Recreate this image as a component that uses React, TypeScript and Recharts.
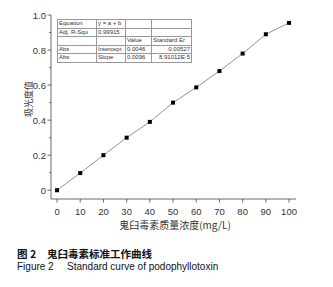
import { LineChart, Line, XAxis, YAxis } from 'recharts';

const concentration = [0, 10, 20, 30, 40, 50, 60, 70, 80, 90, 100];
const absorbance = [0.0, 0.098, 0.2, 0.3, 0.39, 0.5, 0.587, 0.68, 0.78, 0.89, 0.955];

const xTicks = [0, 10, 20, 30, 40, 50, 60, 70, 80, 90, 100];
const yTicks = [0, 0.1, 0.2, 0.3, 0.4, 0.5, 0.6, 0.7, 0.8, 0.9, 1.0];
const yLabels = ['0', '', '0.2', '', '0.4', '', '0.6', '', '0.8', '', '1.0'];

const fitTable = [
  ['Equation', 'y = a + b', '', ''],
  ['Adj. R-Squ', '0.99915', '', ''],
  ['', '', 'Value', 'Standard Er'],
  ['Abs', 'Intercept', '0.0046', '0.00527'],
  ['Abs', 'Slope', '0.0096', '8.91012E-5'],
];
const colWidths = [36, 26, 23, 37];

const data = concentration.map((c, i) => ({ c, abs: absorbance[i] }));

const FONT = '"Liberation Sans", Arial, sans-serif';
const CJK = '"Noto Sans CJK SC", sans-serif';
const AXIS = '#444';

// tickSize/tickMargin are 0, so x,y is the point on the axis line
function YTick(props: any) {
  const { x, y, index } = props;
  const label = yLabels[index];
  const len = label ? 3.5 : 2;
  return (
    <g>
      <line x1={x} y1={y} x2={x - len} y2={y} stroke={AXIS} strokeWidth={0.8} />
      {label && (
        <text x={x - 5} y={y} dy={3.5} textAnchor="end" fontSize={9.5} fill="#333" fontFamily={FONT}>
          {label}
        </text>
      )}
    </g>
  );
}

function XTick(props: any) {
  const { x, y, payload } = props;
  return (
    <g>
      <line x1={x} y1={y} x2={x} y2={y + 3.5} stroke={AXIS} strokeWidth={0.8} />
      <text x={x} y={y + 16} textAnchor="middle" fontSize={9.5} fill="#333" fontFamily={FONT}>
        {payload.value}
      </text>
    </g>
  );
}

function SquareDot(props: any) {
  const { cx, cy } = props;
  return <rect x={cx - 2} y={cy - 2} width={4} height={4} fill="#000" />;
}

export default function App() {
  return (
    <div style={{ position: 'relative', width: 333, height: 287, background: '#fff', overflow: 'hidden' }}>
      <style>{'body{margin:0}'}</style>
      <LineChart
        width={333}
        height={287}
        data={data}
        margin={{ top: 15, right: 37, left: 0, bottom: 58 }}
      >
        <XAxis
          dataKey="c"
          type="number"
          domain={[-2.6, 103]}
          ticks={xTicks}
          height={30}
          tickSize={0}
          tickMargin={0}
          tickLine={false}
          tick={<XTick />}
          axisLine={{ stroke: AXIS, strokeWidth: 0.8 }}
          interval={0}
        />
        <YAxis
          type="number"
          domain={[-0.05, 1.0]}
          ticks={yTicks}
          width={51}
          tickSize={0}
          tickMargin={0}
          tickLine={false}
          tick={<YTick />}
          axisLine={{ stroke: AXIS, strokeWidth: 0.8 }}
          interval={0}
          allowDataOverflow
        />
        <Line
          type="linear"
          dataKey="abs"
          stroke="#777"
          strokeWidth={0.8}
          dot={<SquareDot />}
          activeDot={false}
          isAnimationActive={false}
        />
      </LineChart>

      {/* axis titles */}
      <svg width={333} height={287} style={{ position: 'absolute', left: 0, top: 0, pointerEvents: 'none' }}>
        <text
          x={28}
          y={99}
          transform="rotate(-90, 28, 99)"
          textAnchor="middle"
          dominantBaseline="central"
          fontFamily={CJK}
          fontSize={9}
          fill="#333"
        >
          吸光度值
        </text>
        <text
          x={175}
          y={224}
          textAnchor="middle"
          dominantBaseline="central"
          fontFamily={CJK}
          fontSize={10}
          fill="#333"
        >
          鬼臼毒素质量浓度(mg/L)
        </text>
      </svg>

      {/* fit result table */}
      <table
        style={{
          position: 'absolute',
          left: 57,
          top: 19,
          borderCollapse: 'collapse',
          tableLayout: 'fixed',
          width: 122,
          fontFamily: FONT,
          fontSize: 6,
          color: '#333',
        }}
      >
        <tbody>
          {fitTable.map((row, r) => (
            <tr key={r} style={{ height: 8.6 }}>
              {row.map((cell, c) => (
                <td
                  key={c}
                  style={{
                    width: colWidths[c],
                    border: '0.8px solid #999',
                    padding: '0 1px',
                    lineHeight: '7.6px',
                    whiteSpace: 'nowrap',
                    overflow: 'hidden',
                    textAlign: c === 3 && r > 2 ? 'right' : 'left',
                  }}
                >
                  {cell}
                </td>
              ))}
            </tr>
          ))}
        </tbody>
      </table>

      {/* figure caption */}
      <div style={{ position: 'absolute', left: 17, top: 246, fontFamily: CJK, fontSize: 10.5, fontWeight: 700, color: '#111', whiteSpace: 'pre' }}>
        图 2
      </div>
      <div style={{ position: 'absolute', left: 47, top: 246, fontFamily: CJK, fontSize: 10.5, fontWeight: 700, color: '#111', whiteSpace: 'pre' }}>
        鬼臼毒素标准工作曲线
      </div>
      <div style={{ position: 'absolute', left: 17, top: 261, fontFamily: FONT, fontSize: 10, color: '#111', whiteSpace: 'pre' }}>
        Figure 2
      </div>
      <div style={{ position: 'absolute', left: 67, top: 261, fontFamily: FONT, fontSize: 10, color: '#111', whiteSpace: 'pre' }}>
        Standard curve of podophyllotoxin
      </div>
    </div>
  );
}
